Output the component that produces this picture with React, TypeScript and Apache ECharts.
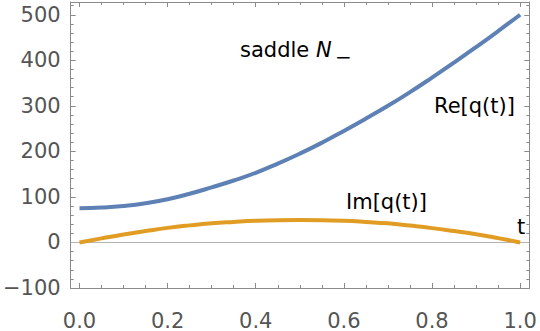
import React, { useEffect, useRef } from 'react';
import * as echarts from 'echarts';

const tValues = [0, 0.05, 0.1, 0.15, 0.2, 0.25, 0.3, 0.35, 0.4, 0.45, 0.5, 0.55, 0.6, 0.65, 0.7, 0.75, 0.8, 0.85, 0.9, 0.95, 1.0];
const reValues = [75, 76.5, 80, 86, 95, 107, 121, 136, 153, 173, 195, 219, 245, 272, 300, 330, 362, 395, 429, 464, 500];
const imValues = [0, 9, 17.5, 25, 32, 37.5, 42, 45, 47.5, 49, 49.5, 49, 47.5, 45, 42, 37, 31.5, 25, 18, 9.5, 0];

const reLabel = 'Re[q(t)]';
const imLabel = 'Im[q(t)]';
const titleText = 'saddle ';
const titleItalic = 'N';
const titleSub = '−';
const axisLabelT = 't';

const FONT = 'DejaVu Sans';
const FRAME = '#8a8a8a';
const LABEL = '#555555';

export default function App() {
  const ref = useRef<HTMLDivElement>(null);
  useEffect(() => {
    if (!ref.current) return;
    const chart = echarts.init(ref.current, undefined, { renderer: 'svg' });
    const reData = tValues.map((t, i) => [t, reValues[i]]);
    const imData = tValues.map((t, i) => [t, imValues[i]]);
    const xBase = {
      type: 'value' as const,
      min: -0.02,
      max: 1.0208,
      splitNumber: 5,
      minInterval: 0.2,
      maxInterval: 0.2,
      splitLine: { show: false },
      axisLine: { show: true, onZero: false, lineStyle: { color: FRAME, width: 1 } },
      axisTick: { show: true, inside: true, length: 5, lineStyle: { color: FRAME } },
      minorTick: { show: true, splitNumber: 4, length: 3, lineStyle: { color: FRAME } },
    };
    const yBase = {
      type: 'value' as const,
      min: -100,
      max: 528,
      splitNumber: 6,
      minInterval: 100,
      maxInterval: 100,
      splitLine: { show: false },
      axisLine: { show: true, onZero: false, lineStyle: { color: FRAME, width: 1 } },
      axisTick: { show: true, inside: true, length: 5, lineStyle: { color: FRAME } },
      minorTick: { show: true, splitNumber: 5, length: 3, lineStyle: { color: FRAME } },
    };
    chart.setOption({
      animation: false,
      grid: { left: 63.5, right: 10.7, top: 2, bottom: 41.7, containLabel: false },
      xAxis: [
        {
          ...xBase,
          position: 'bottom',
          axisLabel: {
            show: true,
            color: LABEL,
            fontFamily: FONT,
            fontSize: 21,
            margin: 22,
            showMinLabel: false,
            showMaxLabel: false,
            formatter: (v: number) => (Math.abs(v) < 1e-9 ? 0 : v).toFixed(1),
          },
        },
        { ...xBase, position: 'top', axisLabel: { show: false } },
      ],
      yAxis: [
        {
          ...yBase,
          position: 'left',
          axisLabel: {
            show: true,
            color: LABEL,
            fontFamily: FONT,
            fontSize: 21,
            margin: 10,
            showMaxLabel: false,
            formatter: (v: number) => (v < 0 ? '−' + Math.abs(v) : String(v)),
          },
        },
        { ...yBase, position: 'right', axisLabel: { show: false } },
      ],
      series: [
        {
          name: reLabel,
          type: 'line',
          xAxisIndex: 0,
          yAxisIndex: 0,
          data: reData,
          smooth: true,
          showSymbol: false,
          lineStyle: { color: '#5E81B5', width: 4 },
          itemStyle: { color: '#5E81B5' },
          z: 3,
          markLine: {
            silent: true,
            symbol: 'none',
            label: { show: false },
            lineStyle: { color: '#b4b4b4', width: 1, type: 'solid' },
            data: [{ yAxis: 0 }],
            z: 1,
          },
        },
        {
          name: imLabel,
          type: 'line',
          xAxisIndex: 0,
          yAxisIndex: 0,
          data: imData,
          smooth: true,
          showSymbol: false,
          lineStyle: { color: '#E19C24', width: 4 },
          itemStyle: { color: '#E19C24' },
          z: 4,
        },
      ],
      graphic: [
        {
          type: 'text',
          left: 240,
          top: 39,
          style: {
            text: '{a|' + titleText + '}{b|' + titleItalic + '}',
            rich: {
              a: { fontFamily: FONT, fontSize: 21, fill: '#000' },
              b: { fontFamily: FONT, fontSize: 21, fontStyle: 'italic', fill: '#000' },
            },
          },
        },
        {
          type: 'text',
          x: 335,
          y: 57,
          style: { text: titleSub, fontFamily: FONT, fontSize: 20, fill: '#000', verticalAlign: 'middle', align: 'left' },
        },
        {
          type: 'text',
          x: 434,
          y: 106,
          style: { text: reLabel, fontFamily: FONT, fontSize: 21, fill: '#000', verticalAlign: 'middle', align: 'left' },
        },
        {
          type: 'text',
          x: 346,
          y: 201.5,
          style: { text: imLabel, fontFamily: FONT, fontSize: 21, fill: '#000', verticalAlign: 'middle', align: 'left' },
        },
        {
          type: 'text',
          x: 517,
          y: 227,
          style: { text: axisLabelT, fontFamily: FONT, fontSize: 21, fill: '#000', verticalAlign: 'middle', align: 'left' },
        },
      ],
    });
    return () => chart.dispose();
  }, []);
  return <div ref={ref} style={{ position: 'fixed', left: 0, top: 0, width: 540, height: 331, background: '#fff' }} />;
}
